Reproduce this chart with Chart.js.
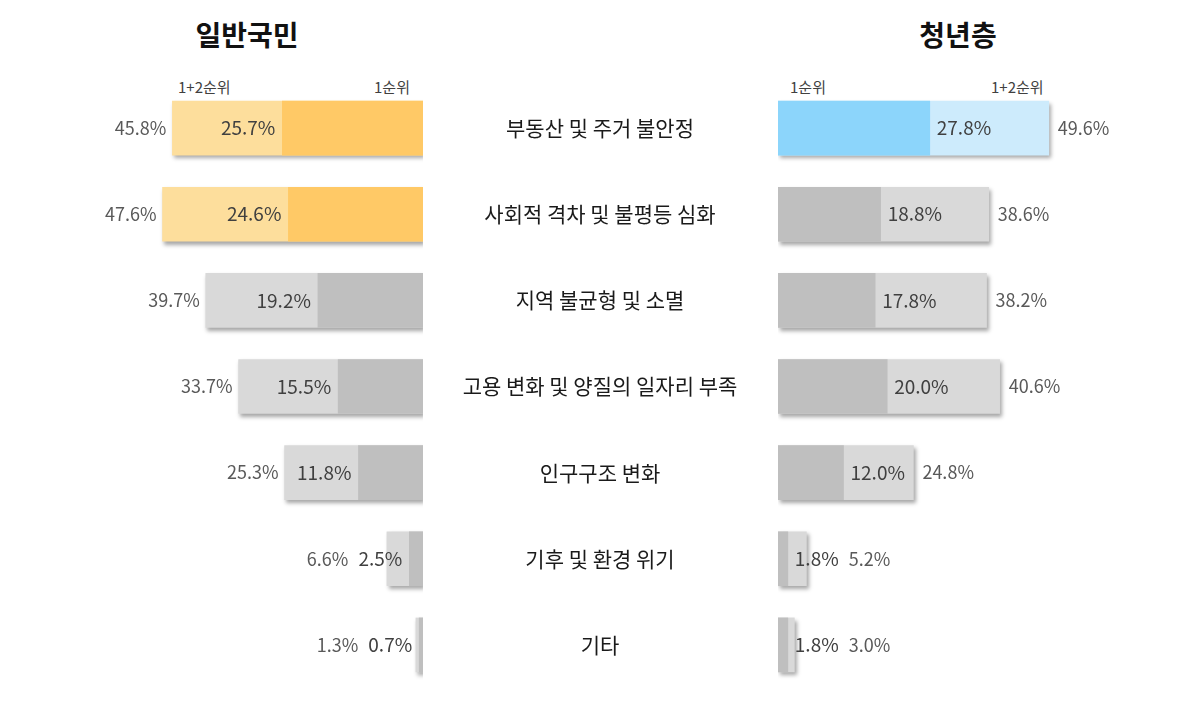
<!DOCTYPE html>
<html lang="ko">
<head>
<meta charset="utf-8">
<script src="https://cdn.jsdelivr.net/npm/chart.js@4.4.1/dist/chart.umd.min.js"></script>
<style>
  body { margin: 0; width: 1200px; height: 710px; background: #fff; position: relative; overflow: hidden;
         font-family: "Noto Sans CJK KR", "Noto Sans", sans-serif; }
  canvas { position: absolute; top: 0; }
  #leftChart { left: 0; }
  #rightChart { left: 760px; }
  .title { position: absolute; top: 14px; font-size: 28px; font-weight: bold; color: #111; transform: translateX(-50%); }
  .key { position: absolute; top: 76px; font-size: 15px; color: #404040; }
</style>
</head>
<body>
<div class="title" style="left:247px">일반국민</div>
<div class="title" style="left:958px">청년층</div>
<div class="key" style="left:178px">1+2순위</div>
<div class="key" style="left:374px">1순위</div>
<div class="key" style="left:790px">1순위</div>
<div class="key" style="left:991px">1+2순위</div>
<canvas id="leftChart" width="760" height="710"></canvas>
<canvas id="rightChart" width="440" height="710"></canvas>
<script>
const categories = ['부동산 및 주거 불안정', '사회적 격차 및 불평등 심화', '지역 불균형 및 소멸',
    '고용 변화 및 양질의 일자리 부족', '인구구조 변화', '기후 및 환경 위기', '기타'];
const publicFirst = [25.7, 24.6, 19.2, 15.5, 11.8, 2.5, 0.7];
const publicTop2 = [45.8, 47.6, 39.7, 33.7, 25.3, 6.6, 1.3];
const youthFirst = [27.8, 18.8, 17.8, 20.0, 12.0, 1.8, 1.8];
const youthTop2 = [49.6, 38.6, 38.2, 40.6, 24.8, 5.2, 3.0];
const publicHighlight = [0, 1];
const youthHighlight = [0];

function colors(highlight, hiColor, grey) {
    return categories.map((c, i) => highlight.includes(i) ? hiColor : grey);
}

// shadow under the full (1+2) bar only
const shadowPlugin = {
    id: 'barShadow',
    beforeDatasetDraw(chart, args) {
        if (args.index !== 1) return;
        const ctx = chart.ctx;
        ctx.save();
        ctx.shadowColor = 'rgba(0,0,0,0.35)';
        ctx.shadowBlur = 4;
        ctx.shadowOffsetX = 2;
        ctx.shadowOffsetY = 3;
    },
    afterDatasetDraw(chart, args) {
        if (args.index === 1) chart.ctx.restore();
    }
};

// value labels: 1순위 inside, 1+2순위 outside
const valuePlugin = {
    id: 'values',
    afterDatasetsDraw(chart, args, opts) {
        const ctx = chart.ctx;
        const x = chart.scales.x, y = chart.scales.y;
        const first = chart.data.datasets[0].data;
        const total = chart.data.datasets[1].data;
        ctx.save();
        ctx.textBaseline = 'middle';
        first.forEach((v, i) => {
            const yp = y.getPixelForValue(i);
            const xf = x.getPixelForValue(v);
            const xt = x.getPixelForValue(total[i]);
            const inTxt = v.toFixed(1) + '%';
            const outTxt = total[i].toFixed(1) + '%';
            ctx.font = '19px "Noto Sans CJK KR", sans-serif';
            const w = ctx.measureText(inTxt).width;
            ctx.fillStyle = '#404040';
            if (opts.side === 'left') {
                ctx.textAlign = 'right';
                ctx.fillText(inTxt, xf - 7, yp);
                ctx.font = '18px "Noto Sans CJK KR", sans-serif';
                ctx.fillStyle = '#595959';
                ctx.fillText(outTxt, Math.min(xt - 6, xf - 7 - w - 10), yp);
            } else {
                ctx.textAlign = 'left';
                ctx.fillText(inTxt, xf + 7, yp);
                ctx.font = '18px "Noto Sans CJK KR", sans-serif';
                ctx.fillStyle = '#595959';
                ctx.fillText(outTxt, Math.max(xt + 9, xf + 7 + w + 10), yp);
            }
        });
        ctx.restore();
    }
};

// category names between the two charts
const centerLabels = {
    id: 'centerLabels',
    afterDraw(chart, args, opts) {
        const ctx = chart.ctx, y = chart.scales.y;
        ctx.save();
        ctx.font = '21px "Noto Sans CJK KR", sans-serif';
        ctx.fillStyle = '#1a1a1a';
        ctx.textAlign = 'center';
        ctx.textBaseline = 'middle';
        categories.forEach((c, i) => ctx.fillText(c, opts.x, y.getPixelForValue(i)));
        ctx.restore();
    }
};

function makeConfig(first, top2, highlight, hiDark, hiLight, side, padding) {
    return {
        type: 'bar',
        data: {
            labels: categories,
            datasets: [
                { label: '1순위', data: first, backgroundColor: colors(highlight, hiDark, '#BFBFBF'),
                  grouped: false, barThickness: 54 },
                { label: '1+2순위', data: top2, backgroundColor: colors(highlight, hiLight, '#D9D9D9'),
                  grouped: false, barThickness: 54 }
            ]
        },
        options: {
            indexAxis: 'y',
            responsive: false,
            animation: false,
            layout: { padding: padding },
            scales: {
                x: { display: false, min: 0, max: 77.3, reverse: side === 'left' },
                y: { display: false }
            },
            plugins: {
                legend: { display: false },
                tooltip: { enabled: false },
                values: { side: side },
                centerLabels: { x: 600 }
            }
        },
        plugins: side === 'left' ? [shadowPlugin, valuePlugin, centerLabels] : [shadowPlugin, valuePlugin]
    };
}

new Chart(document.getElementById('leftChart'),
    makeConfig(publicFirst, publicTop2, publicHighlight, '#FFC966', '#FDDE9C', 'left',
        { top: 85, bottom: 22, left: 0, right: 337 }));
new Chart(document.getElementById('rightChart'),
    makeConfig(youthFirst, youthTop2, youthHighlight, '#8CD5FB', '#CDEBFC', 'right',
        { top: 85, bottom: 22, left: 18, right: 0 }));
</script>
</body>
</html>
